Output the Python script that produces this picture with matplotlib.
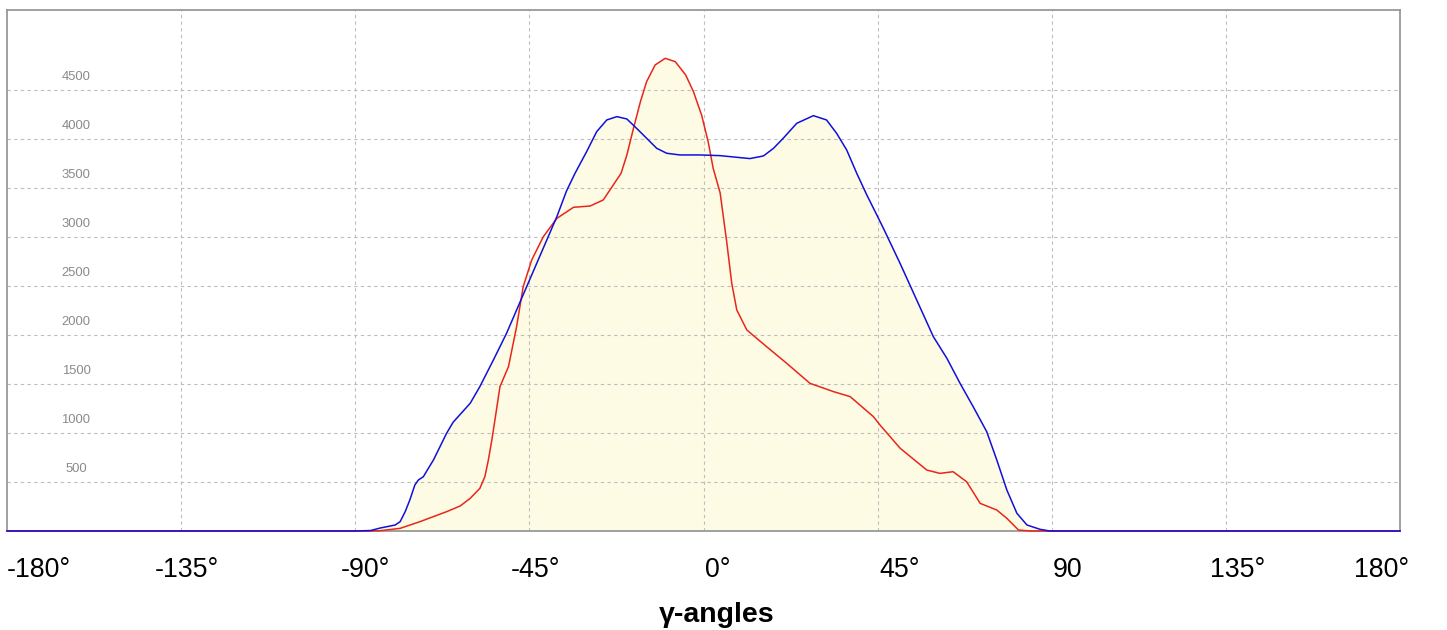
import matplotlib
matplotlib.use("Agg")
import matplotlib.pyplot as plt
import matplotlib.transforms as mtransforms

plt.rcParams['font.family'] = ['Liberation Sans', 'DejaVu Sans']

# blue distribution (angle in degrees, count)
blue_x = [-180, -90, -86.0, -83.6, -79.7, -78.4, -77.1, -75.9, -74.6, -73.7, -72.4, -71.1,
          -69.8, -68.1, -66.4, -64.7, -60.3, -57.8, -54.3, -50.9, -48.3, -45.7, -43.1,
          -40.5, -37.9, -35.4, -33.2, -30.2, -27.6, -25.0, -22.4, -19.8, -17.3, -14.7,
          -12.1, -9.5, -6.1, -0.9, 4.3, 9.4, 12.0, 15.5, 18.1, 20.6, 24.1, 28.4, 31.8,
          34.4, 37.0, 39.6, 42.2, 44.8, 46.5, 50.8, 55.1, 59.4, 62.9, 66.3, 69.7, 73.2,
          75.8, 78.4, 81.0, 83.6, 87.0, 89.5, 180]
blue_y = [0, 0, 5, 30, 61, 95, 197, 316, 469, 520, 554, 640,
          724, 860, 997, 1110, 1303, 1473, 1745, 2017, 2255, 2493, 2731,
          2969, 3207, 3470, 3650, 3871, 4075, 4194, 4228, 4204, 4109, 4007,
          3905, 3854, 3837, 3837, 3830, 3810, 3800, 3827, 3905, 4007, 4160, 4238, 4194,
          4058, 3888, 3650, 3429, 3224, 3088, 2731, 2357, 1983, 1762, 1507, 1268, 1013,
          724, 418, 180, 61, 17, 0, 0]

# red distribution
red_x = [-180, -86.0, -83.6, -78.4, -73.3, -66.4, -62.9, -60.3, -57.8, -56.5, -55.6,
         -54.7, -53.9, -52.6, -50.4, -48.3, -46.6, -44.4, -41.4, -37.9, -33.6, -29.3,
         -25.9, -21.3, -19.8, -18.1, -16.3, -14.7, -12.5, -9.9, -7.3, -4.6, -2.6, -0.5,
         1.2, 2.5, 4.3, 6.0, 7.3, 8.6, 11.2, 16.3, 21.5, 27.5, 33.6, 37.9, 43.9, 45.6,
         50.8, 57.7, 61.1, 64.5, 68.0, 71.5, 75.8, 78.4, 81.4, 84.4, 180]
red_y = [0, 0, 3, 27, 95, 197, 255, 333, 435, 554, 724,
         929, 1133, 1473, 1677, 2085, 2493, 2765, 3003, 3190, 3303, 3316,
         3378, 3650, 3837, 4109, 4381, 4585, 4755, 4823, 4789, 4653, 4483, 4245,
         3973, 3701, 3450, 2950, 2527, 2255, 2051, 1881, 1711, 1507, 1422, 1371, 1167, 1082,
         845, 622, 588, 605, 503, 282, 214, 129, 10, 0, 0]

x_ticks = [-180, -135, -90, -45, 0, 45, 90, 135, 180]
x_labels = ['-180°', '-135°', '-90°', '-45°', '0°', '45°', '90', '135°', '180°']
y_ticks = [500, 1000, 1500, 2000, 2500, 3000, 3500, 4000, 4500]

W, H = 1447, 630
fig = plt.figure(figsize=(W / 100, H / 100), dpi=100)
ax = fig.add_axes([7 / W, 99 / H, 1393 / W, 521 / H])

fill_col = '#fdfbe3'
ax.fill_between(blue_x, blue_y, 0, color=fill_col, lw=0, zorder=1)
ax.fill_between(red_x, red_y, 0, color=fill_col, lw=0, zorder=1)

ax.plot(red_x, red_y, color='#e8261c', lw=1.1, zorder=3, clip_on=False,
        solid_joinstyle='round')
ax.plot(blue_x, blue_y, color='#1010dd', lw=1.1, zorder=4, clip_on=False,
        solid_joinstyle='round')

ax.set_xlim(-180, 180)
ax.set_ylim(0, 5316)

# grid
for t in x_ticks[1:-1]:
    ax.axvline(t, color='#bdbdbd', lw=0.8, dashes=(3, 3), zorder=2)
for t in y_ticks:
    ax.axhline(t, color='#bdbdbd', lw=0.8, dashes=(3, 3), zorder=2)

for s in ax.spines.values():
    s.set_color('#999999')
    s.set_linewidth(1.3)

ax.set_xticks([])
ax.set_yticks([])

# y labels drawn inside the plot, above each grid line
up = mtransforms.ScaledTranslation(0, 7 / 100, fig.dpi_scale_trans)
for t in y_ticks:
    ax.text(69 / 1393, t, str(t), transform=ax.get_yaxis_transform() + up,
            ha='center', va='bottom', fontsize=9.4, color='#8a8a8a')

# x labels, left edges offset in pixels from each tick
label_dx = [0, -26, -14, -19, 1, 2, 1, -16, -46]
base = ax.get_xaxis_transform()
for t, lab, dx in zip(x_ticks, x_labels, label_dx):
    tr = base + mtransforms.ScaledTranslation(dx / 100, -26 / 100, fig.dpi_scale_trans)
    ax.text(t, 0, lab, transform=tr, ha='left', va='top', fontsize=19.3, color='black')

fig.text(717 / W, 8 / H, 'γ-angles', ha='center', va='baseline',
         fontsize=20.5, fontweight='bold')

fig.savefig('out.png', dpi=100)
